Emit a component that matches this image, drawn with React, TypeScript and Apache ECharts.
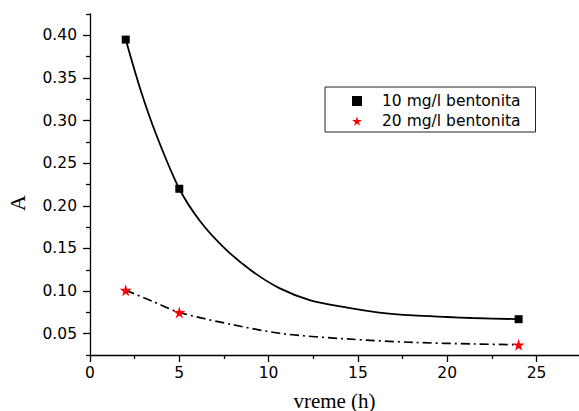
import React, { useEffect, useRef } from "react";
import * as echarts from "echarts";

// measured points
const hours = [2, 5, 24];
const bent10 = [0.395, 0.22, 0.067];
const bent20 = [0.101, 0.075, 0.037];

// fitted curves
const fit10X = [2, 2.8, 3.7, 5, 6.2, 7.6, 9.1, 10.6, 12.3, 14.4, 16.2, 18.1, 20, 21.4, 24];
const fit10Y = [0.395, 0.338, 0.284, 0.22, 0.181, 0.149, 0.123, 0.1035, 0.0895, 0.0805, 0.0748, 0.0714, 0.0696, 0.0684, 0.067];
const fit20X = [2, 3.5, 5, 8, 10.8, 14.4, 18.1, 21.6, 24];
const fit20Y = [0.101, 0.088, 0.075, 0.0605, 0.05, 0.0438, 0.0398, 0.0379, 0.037];

// ticks
const xMajor = [0, 5, 10, 15, 20, 25];
const xMinor = [2.5, 7.5, 12.5, 17.5, 22.5];
const yMajor = [0.05, 0.1, 0.15, 0.2, 0.25, 0.3, 0.35, 0.4];
const yMinor = [0.025, 0.075, 0.125, 0.175, 0.225, 0.275, 0.325, 0.375, 0.425];

const seriesNames = ["10 mg/l bentonita", "20 mg/l bentonita"];
const xTitle = "vreme (h)";
const yTitle = "A";

const STAR =
  "path://M50,0 L61,35 L98,35 L68,57 L79,91 L50,70 L21,91 L32,57 L2,35 L39,35 Z";

const SANS = "DejaVu Sans";
const SERIF = "Liberation Serif";

export default function App() {
  const ref = useRef<HTMLDivElement>(null);
  useEffect(() => {
    if (!ref.current) return;
    const chart = echarts.init(ref.current, undefined, { renderer: "svg" });
    const xRange = { min: 0, max: 27.38 };
    const yRange = { min: 0.025, max: 0.425 };
    const labelStyle = { fontFamily: SANS, fontSize: 15.5, color: "#000" };
    chart.setOption({
      animation: false,
      backgroundColor: "#fff",
      grid: { left: 90, top: 14, width: 489, height: 341, containLabel: false, outerBoundsMode: "none" },
      xAxis: [
        {
          type: "value",
          position: "bottom",
          ...xRange,
          name: xTitle,
          nameLocation: "middle",
          nameGap: 35,
          nameTextStyle: { fontFamily: SERIF, fontSize: 21, color: "#000" },
          splitLine: { show: false },
          axisLine: { show: true, onZero: false, lineStyle: { color: "#000", width: 1.3 } },
          axisTick: { show: true, inside: false, length: 7, customValues: xMajor, lineStyle: { color: "#000", width: 1.3 } },
          axisLabel: { show: true, margin: 10, customValues: xMajor, ...labelStyle, formatter: (v: number) => String(v) },
        },
        {
          type: "value",
          position: "bottom",
          ...xRange,
          splitLine: { show: false },
          axisLine: { show: false, onZero: false },
          axisTick: { show: true, inside: false, length: 4, customValues: xMinor, lineStyle: { color: "#000", width: 1.3 } },
          axisLabel: { show: false },
        },
      ],
      yAxis: [
        {
          type: "value",
          position: "left",
          ...yRange,
          splitLine: { show: false },
          axisLine: { show: true, onZero: false, lineStyle: { color: "#000", width: 1.3 } },
          axisTick: { show: true, inside: false, length: 7, customValues: yMajor, lineStyle: { color: "#000", width: 1.3 } },
          axisLabel: { show: true, margin: 13, customValues: yMajor, ...labelStyle, formatter: (v: number) => v.toFixed(2) },
        },
        {
          type: "value",
          position: "left",
          ...yRange,
          splitLine: { show: false },
          axisLine: { show: false, onZero: false },
          axisTick: { show: true, inside: false, length: 4, customValues: yMinor, lineStyle: { color: "#000", width: 1.3 } },
          axisLabel: { show: false },
        },
      ],
      legend: {
        orient: "vertical",
        left: 325,
        top: 87,
        padding: [6, 15, 3, 27],
        itemGap: 4,
        itemWidth: 10,
        itemHeight: 10,
        borderColor: "#222",
        borderWidth: 1,
        backgroundColor: "#fff",
        textStyle: { fontFamily: SANS, fontSize: 15.5, color: "#000", padding: [0, 0, 0, 15] },
        data: [
          { name: seriesNames[0], icon: "rect", itemStyle: { color: "#000", opacity: 1 } },
          { name: seriesNames[1], icon: STAR, itemStyle: { color: "#ff0000", opacity: 1 } },
        ],
      },
      graphic: [
        {
          type: "text",
          x: 17.5,
          y: 203,
          rotation: Math.PI / 2,
          style: {
            text: yTitle,
            font: `22px ${SERIF}`,
            fontFamily: SERIF,
            fontSize: 22,
            fill: "#000",
            align: "center",
            verticalAlign: "middle",
            textAlign: "center",
            textVerticalAlign: "middle",
          },
        },
      ],
      series: [
        {
          name: "fit10",
          type: "line",
          xAxisIndex: 0,
          yAxisIndex: 0,
          data: fit10X.map((x, i) => [x, fit10Y[i]]),
          showSymbol: false,
          smooth: 0.3,
          lineStyle: { color: "#000", width: 1.8, type: "solid" },
          z: 2,
        },
        {
          name: "fit20",
          type: "line",
          xAxisIndex: 0,
          yAxisIndex: 0,
          data: fit20X.map((x, i) => [x, fit20Y[i]]),
          showSymbol: false,
          smooth: 0.3,
          lineStyle: { color: "#000", width: 1.7, type: [9, 4, 2, 4] },
          z: 2,
        },
        {
          name: seriesNames[0],
          type: "scatter",
          xAxisIndex: 0,
          yAxisIndex: 0,
          data: hours.map((h, i) => [h, bent10[i]]),
          symbol: "rect",
          symbolSize: 8,
          itemStyle: { color: "#000", opacity: 1 },
          z: 5,
        },
        {
          name: seriesNames[1],
          type: "scatter",
          xAxisIndex: 0,
          yAxisIndex: 0,
          data: hours.map((h, i) => [h, bent20[i]]),
          symbol: STAR,
          symbolSize: 12,
          itemStyle: { color: "#ff0000", opacity: 1 },
          z: 5,
        },
      ],
    });
    return () => chart.dispose();
  }, []);
  return (
    <div
      ref={ref}
      style={{ position: "absolute", left: 0, top: 0, width: 579, height: 411 }}
    />
  );
}
